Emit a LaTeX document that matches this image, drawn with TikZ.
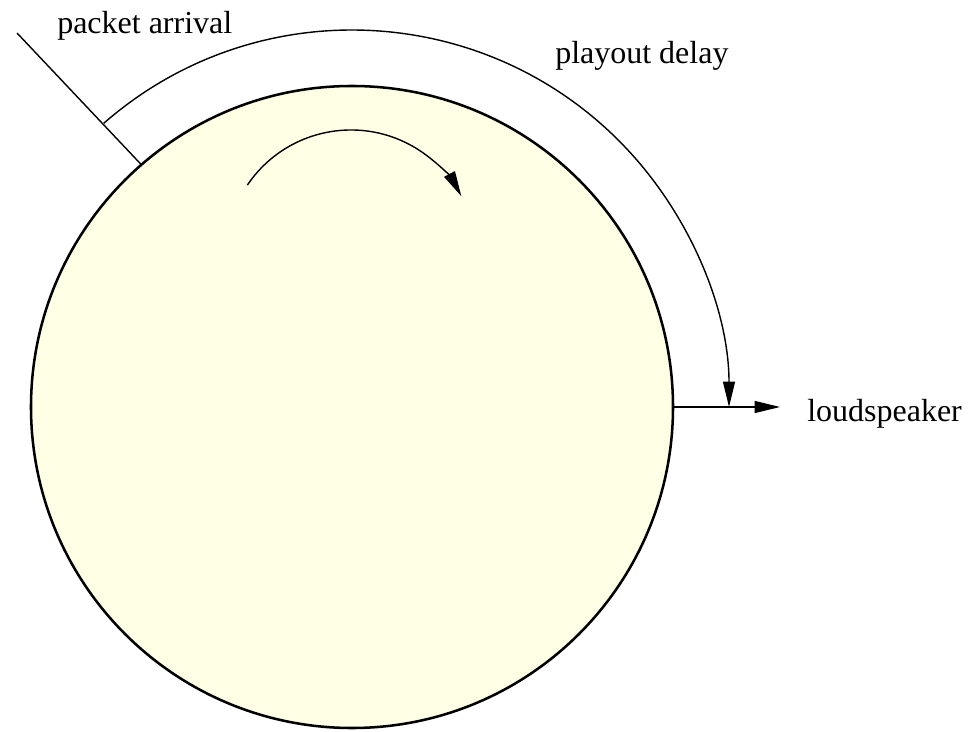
\documentclass[tikz,border=0pt]{standalone}
\usepackage{fontspec}
\setmainfont{Liberation Serif}
\usetikzlibrary{arrows.meta}
\definecolor{bufferfill}{RGB}{255,255,229}
\tikzset{
  label text/.style = {font = \fontsize{22.76}{27}\selectfont, inner sep = 0pt},
  thin line/.style = {line width = 1pt},
  big tip/.style = {-{Triangle[length = 18pt, width = 8.5pt]}}
}
\begin{document}
\begin{tikzpicture}
\useasboundingbox (-8.8, -8.1) rectangle (15.4, 10.175);

% the playout buffer
\node[circle, draw, line width = 1.8pt, fill = bufferfill, outer sep = 0pt,
      minimum size = 16.05cm] (buffer) at (0,0) {};

\node[label text, anchor = base west] (arrival) at (-7.375, 9.325) {packet arrival};
\node[label text, anchor = base west] (delay) at (5.075, 8.575) {playout delay};
\node[label text, anchor = base west] (speaker) at (11.375, -0.375) {loudspeaker};

\coordinate (arrivalend) at (131.85:12.55);
\coordinate (speakerend) at (10.7, 0);
\coordinate (turn) at (-0.025, 3.8);

\draw[thin line] (buffer.131.85) -- (arrivalend);
\draw[thin line, big tip] (buffer.east) -- (speakerend);

\draw[thin line, big tip] (buffer.center) ++(131.2:9.425)
   arc[start angle = 131.2, end angle = 0, radius = 9.425cm];

\draw[thin line, big tip] (turn) ++(146:3.125)
   arc[start angle = 146, end angle = 28, radius = 3.125cm];
\end{tikzpicture}
\end{document}
